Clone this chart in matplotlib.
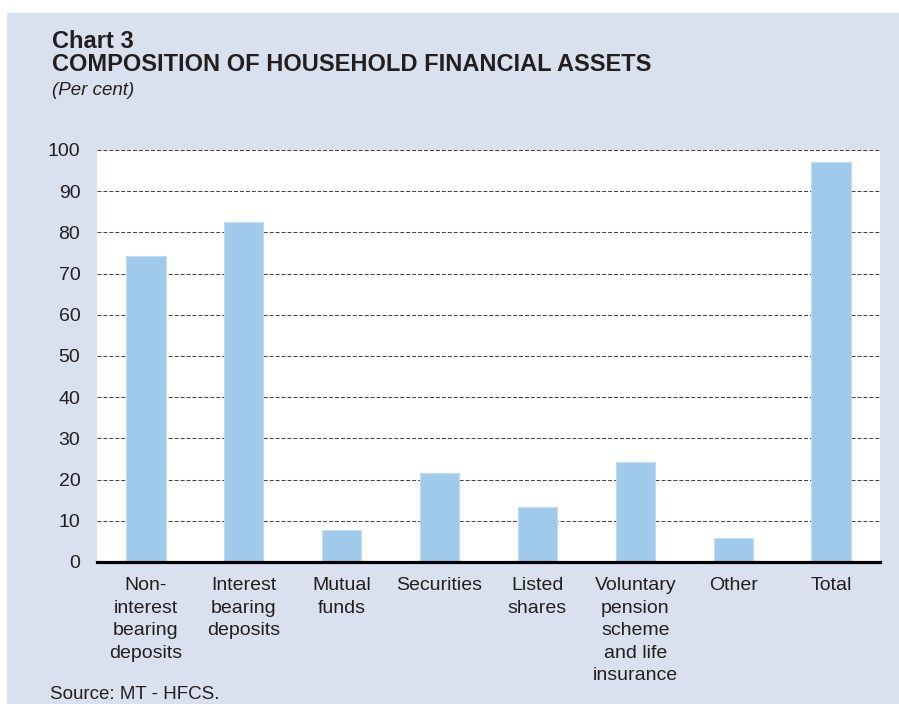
import matplotlib.pyplot as plt
from matplotlib.patches import Rectangle

# Chart data
categories = ["Non-\ninterest\nbearing\ndeposits", "Interest\nbearing\ndeposits",
              "Mutual\nfunds", "Securities", "Listed\nshares",
              "Voluntary\npension\nscheme\nand life\ninsurance", "Other", "Total"]
values = [74.3, 82.6, 7.8, 21.5, 13.3, 24.2, 5.9, 97.2]
yticks = list(range(0, 101, 10))

plt.rcParams['font.family'] = ['Liberation Sans', 'DejaVu Sans']

W, H = 899, 704
fig = plt.figure(figsize=(W / 100, H / 100), dpi=100, facecolor="white")

# light blue panel behind everything
fig.add_artist(Rectangle((7 / W, 0), 1, 1 - 13 / H, transform=fig.transFigure,
                         facecolor="#DAE1EE", edgecolor="none", zorder=-10))

ax = fig.add_axes([97 / W, (H - 562) / H, (880 - 97) / W, (562 - 150) / H])
ax.set_facecolor("white")

x = list(range(len(categories)))
ax.bar(x, values, width=0.40, color="#A0CAEB", edgecolor="#C2DDF2", linewidth=0.8, zorder=3)

ax.set_xlim(-0.5, len(categories) - 0.5)
ax.set_ylim(0, 100)
ax.set_yticks(yticks)
ax.set_xticks(x)
ax.set_xticklabels(categories, fontsize=14, color="#231F20", linespacing=1.42, va="top")
ax.tick_params(axis="y", length=0, pad=12, labelsize=14, labelcolor="#231F20")
ax.tick_params(axis="x", length=0, pad=11)

ax.yaxis.grid(True, linestyle=(0, (3.8, 1.9)), color="#444444", linewidth=0.75, zorder=1)
ax.set_axisbelow(True)
for s in ["top", "right", "left"]:
    ax.spines[s].set_visible(False)
ax.spines["bottom"].set_linewidth(2.3)
ax.spines["bottom"].set_color("black")
ax.spines["bottom"].set_zorder(5)

# titles
fig.text(52 / W, 1 - 48 / H, "Chart 3", fontsize=17, fontweight="bold",
         color="#231F20", va="baseline")
fig.text(52 / W, 1 - 71 / H, "COMPOSITION OF HOUSEHOLD FINANCIAL ASSETS",
         fontsize=17, fontweight="bold", color="#231F20", va="baseline")
fig.text(52 / W, 1 - 95 / H, "(Per cent)", fontsize=13.5, fontstyle="italic",
         color="#231F20", va="baseline")
fig.text(50 / W, 1 / H, "Source: MT - HFCS.", fontsize=13.5, color="#231F20",
         va="bottom")

fig.savefig("out.png", dpi=100, facecolor="white")
